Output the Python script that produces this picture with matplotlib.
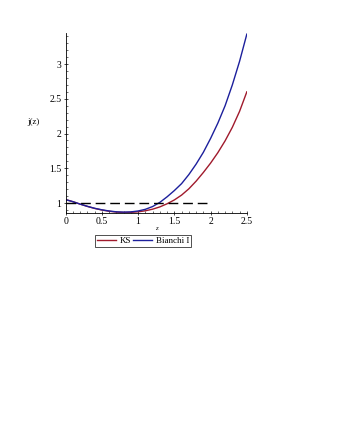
import matplotlib
matplotlib.use("Agg")
import matplotlib.pyplot as plt
from matplotlib.ticker import MultipleLocator

# values
z = [0.0, 0.1, 0.2, 0.3, 0.4, 0.5, 0.6, 0.7, 0.8, 0.9, 1.0, 1.1, 1.2,
     1.3, 1.4, 1.5, 1.6, 1.7, 1.8, 1.9, 2.0, 2.1, 2.2, 2.3, 2.4, 2.5]
j_ks = [1.05, 1.02, 0.985, 0.952, 0.923, 0.900, 0.882, 0.870, 0.865, 0.866,
        0.874, 0.889, 0.912, 0.945, 0.99, 1.045, 1.115, 1.205, 1.315, 1.44,
        1.575, 1.725, 1.895, 2.09, 2.32, 2.60]
j_bianchi = [1.05, 1.02, 0.985, 0.953, 0.925, 0.903, 0.886, 0.874, 0.870, 0.873,
             0.886, 0.91, 0.95, 1.01, 1.09, 1.18, 1.28, 1.41, 1.56, 1.73,
             1.93, 2.15, 2.40, 2.70, 3.04, 3.43]
ref_z = [0, 2.0]
ref_j = [1, 1]

plt.rcParams['font.family'] = ['Liberation Serif', 'DejaVu Serif']

fig = plt.figure(figsize=(3.4, 4.4), dpi=100)
ax = fig.add_axes([0.193, 0.517, 0.533, 0.407])

ax.plot(z, j_ks, color='#a01a2c', lw=1.0, label='KS')
ax.plot(z, j_bianchi, color='#1c1f9c', lw=1.0, label='Bianchi I')
ax.plot(ref_z, ref_j, color='black', lw=1.0, dashes=(7, 3.5))

ax.set_xlim(0, 2.5)
ax.set_ylim(0.864, 3.44)
ax.spines['top'].set_visible(False)
ax.spines['right'].set_visible(False)
ax.spines['left'].set_linewidth(0.6)
ax.spines['bottom'].set_linewidth(0.6)

ax.xaxis.set_minor_locator(MultipleLocator(0.1))
ax.yaxis.set_minor_locator(MultipleLocator(0.1))
ax.set_xticks([0, 0.5, 1, 1.5, 2, 2.5])
ax.set_xticklabels(['0', '0.5', '1', '1.5', '2', '2.5'])
ax.set_yticks([1, 1.5, 2, 2.5, 3])
ax.set_yticklabels(['1', '1.5', '2', '2.5', '3'])
ax.tick_params(which='major', direction='inout', length=3, width=0.5, labelsize=7, pad=1.5)
ax.tick_params(which='minor', direction='in', length=1.5, width=0.4)

ax.set_xlabel('z', fontsize=5, style='italic', labelpad=0)
ax.set_ylabel('j(z)', fontsize=6.5, rotation=0)
ax.yaxis.set_label_coords(-0.18, 0.483)

leg = fig.legend(loc='center', bbox_to_anchor=(0.421, 0.452), ncol=2,
                 fontsize=6.5, frameon=True, fancybox=False, handlelength=2.1,
                 handletextpad=0.35, columnspacing=0.3, borderpad=0.2,
                 borderaxespad=0)
leg.get_frame().set_edgecolor('black')
leg.get_frame().set_linewidth(0.6)

fig.savefig('out.png', dpi=100)
